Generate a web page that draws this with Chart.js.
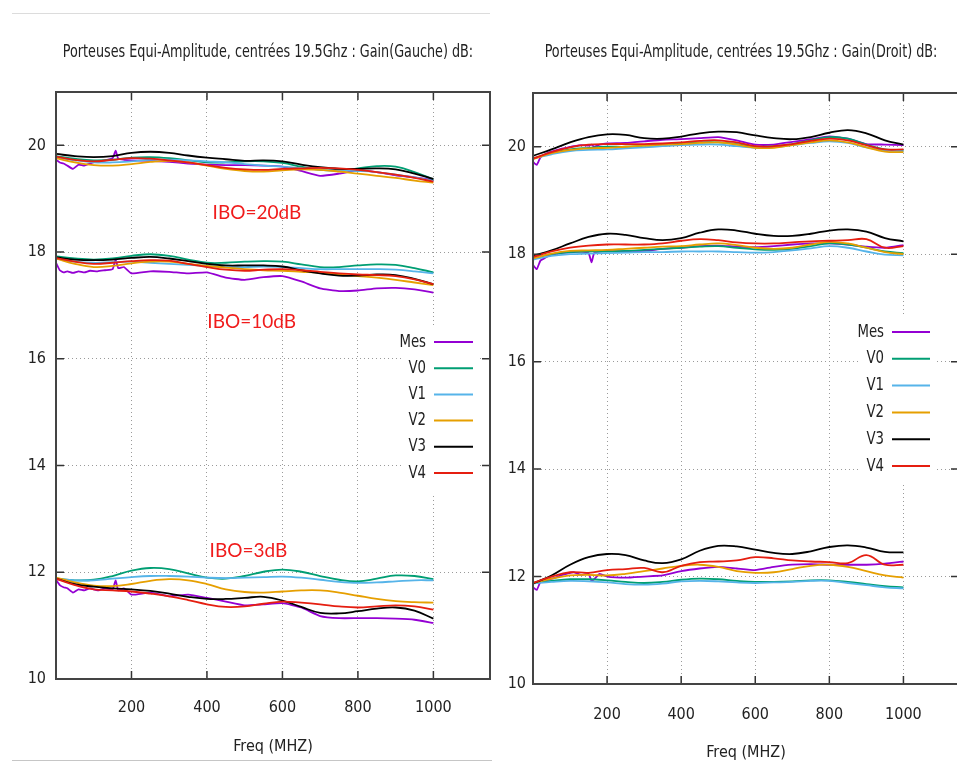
<!DOCTYPE html>
<html lang="fr">
<head>
<meta charset="utf-8">
<title>Porteuses Equi-Amplitude - Gain Gauche / Droit</title>
<script src="https://cdn.jsdelivr.net/npm/chart.js@4.4.1/dist/chart.umd.min.js"></script>
<style>
  html, body { margin: 0; padding: 0; background: #fff; }
  body { width: 957px; height: 762px; overflow: hidden; position: relative; }
  #gauche { position: absolute; left: 0; top: 0; }
  #droit { position: absolute; left: 491px; top: 0; }
  .trait { position: absolute; height: 1px; background: #dcdcdc; }
</style>
</head>
<body>
<div class="trait" style="left:12px; top:13px; width:478px"></div>
<div class="trait" style="left:12px; top:760px; width:480px; background:#c6c6c6"></div>
<canvas id="gauche" width="491" height="762"></canvas>
<canvas id="droit" width="468" height="762"></canvas>
<script>
// Fréquences (MHz)
const FREQ = [0, 50, 100, 150, 200, 250, 300, 350, 400, 450, 500, 550, 600, 650, 700, 750, 800, 850, 900, 950, 1000];
const FREQ_MES = [0, 10, 20, 30, 45, 60, 75, 90, 110, 130, 150, 158, 165, 180, 200, 250, 300, 350, 400, 450, 500, 550, 600, 650, 700, 750, 800, 850, 900, 950, 1000];

const SERIES = ['Mes', 'V0', 'V1', 'V2', 'V3', 'V4'];
const COULEURS = ['#9400d3', '#009e73', '#56b4e9', '#e69f00', '#000000', '#e51e10'];
const X_TICKS = [200, 400, 600, 800, 1000];
const Y_TICKS = [10, 12, 14, 16, 18, 20];
const IBO_TEXTES = ['IBO=20dB', 'IBO=10dB', 'IBO=3dB'];

// Gain(Gauche) - IBO=20dB
const gauche20Mes = [19.73, 19.68, 19.66, 19.62, 19.56, 19.64, 19.62, 19.66, 19.70, 19.72, 19.76, 19.90, 19.75, 19.73, 19.72, 19.71, 19.69, 19.66, 19.64, 19.63, 19.63, 19.62, 19.60, 19.52, 19.43, 19.47, 19.53, 19.50, 19.44, 19.40, 19.35];
const gauche20V0 = [19.80, 19.75, 19.72, 19.73, 19.77, 19.78, 19.76, 19.72, 19.68, 19.68, 19.70, 19.70, 19.67, 19.60, 19.54, 19.53, 19.57, 19.61, 19.60, 19.50, 19.36];
const gauche20V1 = [19.78, 19.72, 19.68, 19.68, 19.70, 19.73, 19.73, 19.72, 19.70, 19.68, 19.65, 19.62, 19.60, 19.57, 19.55, 19.53, 19.52, 19.50, 19.45, 19.40, 19.33];
const gauche20V2 = [19.76, 19.68, 19.63, 19.62, 19.65, 19.69, 19.71, 19.68, 19.62, 19.56, 19.52, 19.51, 19.53, 19.55, 19.54, 19.51, 19.47, 19.43, 19.39, 19.34, 19.30];
const gauche20V3 = [19.84, 19.80, 19.78, 19.80, 19.86, 19.88, 19.86, 19.81, 19.77, 19.74, 19.71, 19.72, 19.70, 19.64, 19.59, 19.56, 19.56, 19.57, 19.55, 19.47, 19.37];
const gauche20V4 = [19.79, 19.73, 19.70, 19.73, 19.76, 19.75, 19.72, 19.68, 19.63, 19.58, 19.55, 19.54, 19.56, 19.57, 19.58, 19.57, 19.54, 19.50, 19.45, 19.39, 19.32];

// Gain(Gauche) - IBO=10dB
const gauche10Mes = [17.80, 17.66, 17.62, 17.64, 17.61, 17.64, 17.62, 17.65, 17.64, 17.66, 17.68, 17.86, 17.70, 17.72, 17.60, 17.64, 17.63, 17.60, 17.62, 17.52, 17.48, 17.53, 17.55, 17.45, 17.32, 17.27, 17.28, 17.32, 17.33, 17.30, 17.24];
const gauche10V0 = [17.92, 17.88, 17.86, 17.88, 17.93, 17.96, 17.93, 17.86, 17.80, 17.80, 17.82, 17.83, 17.82, 17.77, 17.72, 17.72, 17.75, 17.77, 17.76, 17.70, 17.62];
const gauche10V1 = [17.88, 17.82, 17.80, 17.81, 17.82, 17.80, 17.78, 17.76, 17.74, 17.72, 17.72, 17.73, 17.72, 17.70, 17.68, 17.68, 17.68, 17.68, 17.67, 17.64, 17.60];
const gauche10V2 = [17.88, 17.78, 17.72, 17.74, 17.79, 17.82, 17.82, 17.78, 17.74, 17.71, 17.68, 17.66, 17.65, 17.63, 17.61, 17.58, 17.55, 17.52, 17.48, 17.43, 17.38];
const gauche10V3 = [17.90, 17.86, 17.85, 17.86, 17.89, 17.91, 17.88, 17.83, 17.78, 17.75, 17.75, 17.75, 17.73, 17.66, 17.60, 17.56, 17.56, 17.58, 17.57, 17.50, 17.40];
const gauche10V4 = [17.89, 17.82, 17.78, 17.80, 17.83, 17.85, 17.84, 17.78, 17.72, 17.67, 17.65, 17.67, 17.68, 17.66, 17.63, 17.60, 17.58, 17.57, 17.55, 17.49, 17.40];

// Gain(Gauche) - IBO=3dB
const gauche3Mes = [11.86, 11.76, 11.72, 11.70, 11.62, 11.68, 11.66, 11.70, 11.66, 11.70, 11.68, 11.85, 11.66, 11.70, 11.58, 11.62, 11.55, 11.58, 11.52, 11.45, 11.38, 11.40, 11.42, 11.34, 11.18, 11.14, 11.14, 11.14, 11.13, 11.11, 11.05];
const gauche3V0 = [11.88, 11.85, 11.86, 11.93, 12.03, 12.08, 12.06, 11.98, 11.90, 11.88, 11.93, 12.01, 12.05, 12.01, 11.93, 11.86, 11.83, 11.88, 11.94, 11.93, 11.87];
const gauche3V1 = [11.88, 11.85, 11.85, 11.88, 11.91, 11.93, 11.93, 11.92, 11.90, 11.89, 11.90, 11.91, 11.92, 11.90, 11.86, 11.82, 11.80, 11.81, 11.83, 11.85, 11.85];
const gauche3V2 = [11.90, 11.81, 11.75, 11.74, 11.78, 11.84, 11.87, 11.85, 11.78, 11.68, 11.63, 11.62, 11.64, 11.66, 11.66, 11.62, 11.56, 11.50, 11.46, 11.44, 11.43];
const gauche3V3 = [11.88, 11.78, 11.73, 11.70, 11.68, 11.65, 11.60, 11.54, 11.50, 11.50, 11.52, 11.54, 11.47, 11.35, 11.24, 11.23, 11.27, 11.32, 11.34, 11.28, 11.13];
const gauche3V4 = [11.88, 11.76, 11.68, 11.66, 11.64, 11.60, 11.55, 11.48, 11.40, 11.35, 11.36, 11.41, 11.45, 11.43, 11.40, 11.36, 11.34, 11.36, 11.38, 11.36, 11.30];

// Gain(Droit) - IBO=20dB
const droit20Mes = [19.72, 19.66, 19.80, 19.85, 19.90, 19.93, 19.96, 19.98, 20.01, 20.03, 20.02, 20.04, 20.00, 20.04, 20.06, 20.07, 20.10, 20.13, 20.14, 20.16, 20.18, 20.12, 20.04, 20.04, 20.09, 20.14, 20.19, 20.15, 20.05, 20.04, 20.03];
const droit20V0 = [19.78, 19.88, 19.95, 19.98, 20.00, 20.00, 20.02, 20.04, 20.06, 20.08, 20.08, 20.05, 20.00, 20.01, 20.05, 20.12, 20.18, 20.15, 20.04, 19.95, 19.93];
const droit20V1 = [19.78, 19.86, 19.92, 19.94, 19.95, 19.97, 19.99, 20.01, 20.03, 20.04, 20.04, 20.01, 19.98, 19.99, 20.03, 20.07, 20.10, 20.07, 19.99, 19.93, 19.92];
const droit20V2 = [19.77, 19.88, 19.94, 19.97, 19.98, 20.00, 20.02, 20.04, 20.05, 20.07, 20.08, 20.04, 19.98, 19.98, 20.03, 20.08, 20.12, 20.08, 19.99, 19.91, 19.90];
const droit20V3 = [19.83, 19.95, 20.08, 20.18, 20.23, 20.22, 20.16, 20.15, 20.19, 20.25, 20.28, 20.27, 20.21, 20.16, 20.14, 20.18, 20.26, 20.31, 20.25, 20.12, 20.04];
const droit20V4 = [19.78, 19.90, 19.99, 20.04, 20.05, 20.05, 20.05, 20.06, 20.08, 20.11, 20.12, 20.08, 20.01, 20.01, 20.05, 20.11, 20.15, 20.12, 20.03, 19.95, 19.95];

// Gain(Droit) - IBO=10dB
const droit10Mes = [17.80, 17.72, 17.88, 17.92, 17.98, 18.00, 18.02, 18.03, 18.04, 18.05, 18.02, 17.85, 18.02, 18.05, 18.06, 18.05, 18.06, 18.10, 18.12, 18.15, 18.16, 18.14, 18.13, 18.15, 18.18, 18.20, 18.20, 18.18, 18.14, 18.12, 18.17];
const droit10V0 = [17.92, 18.00, 18.04, 18.05, 18.05, 18.06, 18.08, 18.10, 18.12, 18.14, 18.15, 18.12, 18.09, 18.08, 18.10, 18.15, 18.20, 18.18, 18.12, 18.05, 18.02];
const droit10V1 = [17.90, 17.97, 18.00, 18.01, 18.02, 18.03, 18.04, 18.04, 18.05, 18.05, 18.05, 18.04, 18.03, 18.04, 18.07, 18.11, 18.15, 18.12, 18.05, 17.99, 17.98];
const droit10V2 = [17.92, 18.01, 18.06, 18.07, 18.08, 18.10, 18.12, 18.14, 18.15, 18.18, 18.20, 18.17, 18.12, 18.10, 18.12, 18.18, 18.23, 18.20, 18.12, 18.04, 18.00];
const droit10V3 = [17.97, 18.07, 18.20, 18.32, 18.38, 18.36, 18.30, 18.26, 18.30, 18.40, 18.46, 18.44, 18.38, 18.34, 18.34, 18.38, 18.44, 18.46, 18.42, 18.30, 18.24];
const droit10V4 = [17.95, 18.05, 18.12, 18.16, 18.18, 18.18, 18.18, 18.20, 18.25, 18.28, 18.26, 18.22, 18.20, 18.20, 18.22, 18.24, 18.25, 18.26, 18.28, 18.12, 18.15];

// Gain(Droit) - IBO=3dB
const droit3Mes = [11.80, 11.75, 11.90, 11.92, 11.95, 11.98, 12.02, 12.05, 12.08, 12.03, 12.05, 11.92, 11.95, 12.05, 12.00, 11.98, 12.00, 12.02, 12.10, 12.15, 12.18, 12.15, 12.12, 12.18, 12.22, 12.23, 12.22, 12.22, 12.22, 12.24, 12.28];
const droit3V0 = [11.88, 11.92, 11.95, 11.95, 11.93, 11.90, 11.88, 11.90, 11.94, 11.96, 11.95, 11.92, 11.90, 11.90, 11.91, 11.93, 11.93, 11.90, 11.86, 11.82, 11.80];
const droit3V1 = [11.87, 11.90, 11.92, 11.91, 11.89, 11.86, 11.85, 11.87, 11.91, 11.92, 11.91, 11.89, 11.88, 11.89, 11.90, 11.92, 11.92, 11.88, 11.84, 11.80, 11.78];
const droit3V2 = [11.88, 11.96, 12.02, 12.03, 12.02, 12.05, 12.10, 12.15, 12.20, 12.22, 12.18, 12.10, 12.07, 12.08, 12.14, 12.20, 12.22, 12.18, 12.10, 12.02, 11.98];
const droit3V3 = [11.87, 12.02, 12.22, 12.36, 12.42, 12.40, 12.30, 12.25, 12.32, 12.48, 12.57, 12.56, 12.50, 12.44, 12.42, 12.47, 12.55, 12.58, 12.54, 12.46, 12.45];
const droit3V4 = [11.88, 12.00, 12.08, 12.07, 12.12, 12.14, 12.16, 12.08, 12.20, 12.27, 12.28, 12.30, 12.36, 12.34, 12.30, 12.28, 12.27, 12.25, 12.40, 12.22, 12.22];

const POLICE = '"DejaVu Sans Condensed", "Liberation Sans Narrow", sans-serif';
const TEXTE = '#222';

// construit les datasets d'un graphe (Mes dessiné en premier, V4 au dessus)
function courbes(groupes) {
  const ds = [];
  groupes.forEach(groupe => {
    groupe.forEach((valeurs, i) => {
      const xs = i === 0 ? FREQ_MES : FREQ;
      ds.push({
        label: SERIES[i],
        data: valeurs.map((v, k) => ({ x: xs[k], y: v })),
        borderColor: COULEURS[i],
        backgroundColor: COULEURS[i],
        borderWidth: 1.8,
        pointRadius: 0,
        tension: i === 0 ? 0.15 : 0.4,
        order: SERIES.length - i,
        fill: false
      });
    });
  });
  return ds;
}

// texte resserré horizontalement (la police gnuplot est étroite)
function texteEtroit(ctx, txt, x, y, align, sx) {
  ctx.save();
  ctx.translate(x, y);
  ctx.scale(sx, 1);
  ctx.textAlign = align;
  ctx.textBaseline = 'middle';
  ctx.fillText(txt, 0, 0);
  ctx.restore();
}

// cadre + petites graduations vers l'intérieur (style gnuplot)
const cadre = {
  id: 'cadre',
  afterDatasetsDraw(chart) {
    const { ctx, chartArea: a, scales: { x, y } } = chart;
    ctx.save();
    ctx.strokeStyle = '#333';
    ctx.lineWidth = 1.5;
    ctx.beginPath();
    X_TICKS.forEach(v => {
      const px = x.getPixelForValue(v);
      ctx.moveTo(px, a.bottom); ctx.lineTo(px, a.bottom - 8);
      ctx.moveTo(px, a.top); ctx.lineTo(px, a.top + 8);
    });
    Y_TICKS.forEach(v => {
      const py = y.getPixelForValue(v);
      ctx.moveTo(a.left, py); ctx.lineTo(a.left + 8, py);
      ctx.moveTo(a.right, py); ctx.lineTo(a.right - 8, py);
    });
    ctx.stroke();
    ctx.strokeStyle = '#444';
    ctx.lineWidth = 2;
    ctx.strokeRect(a.left, a.top, a.right - a.left, a.bottom - a.top);
    ctx.restore();
  }
};

// titre centré sur la zone de tracé
const titre = {
  id: 'titre',
  afterDraw(chart, args, opts) {
    const { ctx, chartArea: a } = chart;
    ctx.save();
    ctx.font = '17px ' + POLICE;
    ctx.fillStyle = TEXTE;
    texteEtroit(ctx, opts.text, (a.left + a.right) / 2 + opts.dx, opts.y, 'center', 0.835);
    ctx.restore();
  }
};

// légende à l'intérieur du cadre
const legende = {
  id: 'legende',
  afterDatasetsDraw(chart, args, opts) {
    const { ctx } = chart;
    ctx.save();
    ctx.fillStyle = '#fff';
    ctx.fillRect(opts.box[0], opts.box[1], opts.box[2] - opts.box[0], opts.box[3] - opts.box[1]);
    ctx.font = '18px ' + POLICE;
    SERIES.forEach((nom, i) => {
      const yy = opts.y0 + i * opts.pas;
      ctx.fillStyle = TEXTE;
      texteEtroit(ctx, nom, opts.x - 8, yy, 'right', 0.82);
      ctx.strokeStyle = COULEURS[i];
      ctx.lineWidth = 2;
      ctx.beginPath();
      ctx.moveTo(opts.x, yy);
      ctx.lineTo(opts.x + opts.long, yy);
      ctx.stroke();
    });
    ctx.restore();
  }
};

// étiquettes IBO en rouge
const ibo = {
  id: 'ibo',
  afterDatasetsDraw(chart, args, opts) {
    if (!opts.pos) return;
    const { ctx, scales: { x, y } } = chart;
    ctx.save();
    ctx.font = '19px Lato, "Open Sans", sans-serif';
    ctx.fillStyle = '#f01c1c';
    ctx.textAlign = 'left';
    ctx.textBaseline = 'middle';
    opts.pos.forEach((p, i) => {
      ctx.fillText(IBO_TEXTES[i], x.getPixelForValue(p[0]), y.getPixelForValue(p[1]));
    });
    ctx.restore();
  }
};

function graphe(id, groupes, cfg) {
  const ctx = document.getElementById(id).getContext('2d');
  return new Chart(ctx, {
    type: 'line',
    data: { datasets: courbes(groupes) },
    plugins: [cadre, legende, ibo, titre],
    options: {
      responsive: false,
      animation: false,
      events: [],
      layout: { padding: { top: cfg.haut, right: cfg.droite, left: 0, bottom: 0 } },
      plugins: {
        legend: { display: false },
        tooltip: { enabled: false },
        titre: { text: cfg.titre, y: 53, dx: -5 },
        legende: cfg.legende,
        ibo: { pos: cfg.ibo }
      },
      scales: {
        x: {
          type: 'linear',
          min: 0,
          max: 1150,
          afterBuildTicks: s => { s.ticks = X_TICKS.map(v => ({ value: v })); },
          afterFit: s => { s.height = cfg.hautX; },
          ticks: { font: { family: POLICE, size: 16 }, color: TEXTE, padding: cfg.padX, maxRotation: 0, autoSkip: false, callback: v => String(v) },
          grid: { color: '#9a9a9a', lineWidth: 1, drawTicks: false },
          border: { display: false, dash: [1, 3] },
          title: { display: true, text: 'Freq (MHZ)', font: { family: POLICE, size: 16 }, color: TEXTE, padding: { top: 0, bottom: cfg.padTitre } }
        },
        y: {
          type: 'linear',
          min: 10,
          max: 21,
          afterBuildTicks: s => { s.ticks = Y_TICKS.map(v => ({ value: v })); },
          afterFit: s => { s.width = cfg.largeY; },
          ticks: { font: { family: POLICE, size: 16 }, color: TEXTE, padding: cfg.padY, callback: v => String(v) },
          grid: { color: ctx => ctx.tick && ctx.tick.value === 10 ? 'rgba(0,0,0,0)' : '#9a9a9a', lineWidth: 1, drawTicks: false },
          border: { display: false, dash: [1, 3] }
        }
      }
    }
  });
}

graphe('gauche',
  [[gauche20Mes, gauche20V0, gauche20V1, gauche20V2, gauche20V3, gauche20V4],
   [gauche10Mes, gauche10V0, gauche10V1, gauche10V2, gauche10V3, gauche10V4],
   [gauche3Mes, gauche3V0, gauche3V1, gauche3V2, gauche3V3, gauche3V4]],
  {
    titre: 'Porteuses Equi-Amplitude, centrées 19.5Ghz : Gain(Gauche) dB:',
    haut: 92, droite: 1, hautX: 83, largeY: 56, padX: 19, padY: 10, padTitre: 6,
    legende: { x: 434, long: 39, y0: 342, pas: 26.2, box: [402, 326, 478, 494] },
    ibo: [[415, 18.74], [401, 16.70], [407, 12.40]]
  });

graphe('droit',
  [[droit20Mes, droit20V0, droit20V1, droit20V2, droit20V3, droit20V4],
   [droit10Mes, droit10V0, droit10V1, droit10V2, droit10V3, droit10V4],
   [droit3Mes, droit3V0, droit3V1, droit3V2, droit3V3, droit3V4]],
  {
    titre: 'Porteuses Equi-Amplitude, centrées 19.5Ghz : Gain(Droit) dB:',
    haut: 93, droite: 0, hautX: 78, largeY: 42, padX: 21, padY: 7, padTitre: 0,
    legende: { x: 401, long: 38, y0: 332, pas: 26.8, box: [367, 316, 446, 484] },
    ibo: null
  });
</script>
</body>
</html>
